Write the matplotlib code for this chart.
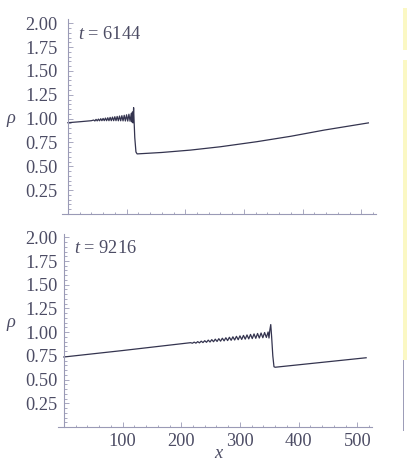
# density profiles rho(x) at two times, stacked panels
import matplotlib
matplotlib.use("Agg")
import matplotlib.pyplot as plt
from matplotlib.ticker import MultipleLocator
from matplotlib.patches import Rectangle

plt.rcParams['font.family'] = ['Liberation Serif', 'DejaVu Serif']
plt.rcParams['mathtext.fontset'] = 'custom'
plt.rcParams['mathtext.rm'] = 'Liberation Serif'
plt.rcParams['mathtext.it'] = 'Liberation Serif:italic'

# t = 6144
x_a = [0, 20, 40, 44, 46, 48, 50, 52, 54, 56, 58, 60, 62, 64, 66, 68, 70,
       72, 74, 76, 78, 80, 82, 84, 86, 88, 90, 92, 94, 96, 98, 100, 102,
       104, 106, 108, 109, 110, 111, 112, 113, 114, 116, 118, 160, 209, 260,
       322, 380, 437, 512]
rho_a = [0.957, 0.967, 0.978, 0.985, 0.975, 0.992, 0.976, 0.995, 0.977,
         0.999, 0.978, 1.002, 0.978, 1.006, 0.978, 1.009, 0.978, 1.013,
         0.978, 1.016, 0.978, 1.020, 0.978, 1.023, 0.977, 1.027, 0.977,
         1.031, 0.976, 1.035, 0.975, 1.040, 0.974, 1.046, 0.972, 1.055,
         0.965, 1.070, 0.955, 1.115, 0.950, 0.800, 0.650, 0.630, 0.645,
         0.670, 0.705, 0.758, 0.815, 0.880, 0.955]

# t = 9216
x_b = [0, 100, 216, 219, 222, 225, 228, 231, 234, 237, 240, 243, 246, 249,
       252, 255, 258, 261, 264, 267, 270, 273, 276, 279, 282, 285, 288, 291,
       294, 297, 300, 303, 306, 309, 312, 315, 318, 321, 324, 327, 330, 333,
       336, 339, 342, 345, 348, 349.5, 351, 352.5, 354, 356, 358, 360, 515]
rho_b = [0.738, 0.806, 0.889, 0.883, 0.895, 0.884, 0.900, 0.887, 0.905,
         0.890, 0.910, 0.893, 0.916, 0.896, 0.921, 0.899, 0.926, 0.902,
         0.931, 0.905, 0.936, 0.908, 0.941, 0.911, 0.946, 0.914, 0.951,
         0.917, 0.956, 0.920, 0.961, 0.923, 0.966, 0.926, 0.971, 0.929,
         0.976, 0.932, 0.981, 0.935, 0.986, 0.938, 0.991, 0.941, 0.996,
         0.944, 1.002, 0.938, 1.025, 1.080, 0.950, 0.750, 0.635, 0.630,
         0.730]

times = ["6144", "9216"]

W, H = 407, 462
text_col = "#4c4c64"
axis_col = "#9a9ab6"
line_col = "#34344f"
fs = 13.2

fig = plt.figure(figsize=(W / 100, H / 100), dpi=100)


def panel(rect, xs, ys, label, pad_y, show_x):
    ax = fig.add_axes(rect)
    ax.plot(xs, ys, color=line_col, lw=0.9)
    ax.set_xlim(-10, 525)
    ax.set_ylim(0, 2.04)
    for s in ["top", "right"]:
        ax.spines[s].set_visible(False)
    ax.spines["left"].set_position(("data", 0))
    ax.spines["bottom"].set_position(("data", 0))
    for s in ["left", "bottom"]:
        ax.spines[s].set_color(axis_col)
        ax.spines[s].set_linewidth(0.8)
    ax.xaxis.set_major_locator(MultipleLocator(100))
    ax.xaxis.set_minor_locator(MultipleLocator(20))
    ax.yaxis.set_major_locator(MultipleLocator(0.25))
    ax.yaxis.set_minor_locator(MultipleLocator(0.05))
    ax.tick_params(which="both", direction="in", color=axis_col, width=0.6,
                   labelcolor=text_col, labelsize=fs)
    ax.tick_params(which="major", length=3.5)
    ax.tick_params(which="minor", length=1.8)
    ax.tick_params(axis="y", pad=pad_y)
    ax.tick_params(axis="x", pad=4.0)
    ax.set_yticks([0.25, 0.5, 0.75, 1.0, 1.25, 1.5, 1.75, 2.0])
    ax.set_yticklabels(["0.25", "0.50", "0.75", "1.00", "1.25", "1.50",
                        "1.75", "2.00"])
    ax.set_xticks([100, 200, 300, 400, 500])
    if not show_x:
        ax.set_xticklabels([])
    ax.patch.set_alpha(0)
    ax.text(0.05, 0.92, r"$t$ = " + label, transform=ax.transAxes,
            fontsize=fs, color=text_col, va="center", ha="left")
    return ax


top = panel([62 / W, 1 - 214 / H, 314 / W, 194.6 / H], x_a, rho_a,
            times[0], 7.5, False)
top.set_ylabel(r"$\rho$", rotation=0, fontsize=fs, color=text_col,
               va="center")
top.yaxis.set_label_coords(-0.162, 0.48)

bot = panel([58 / W, 1 - 427 / H, 314 / W, 193.5 / H], x_b, rho_b,
            times[1], 4.5, True)
bot.set_ylabel(r"$\rho$", rotation=0, fontsize=fs, color=text_col,
               va="center")
bot.yaxis.set_label_coords(-0.15, 0.53)
bot.set_xlabel("x", fontsize=fs, fontstyle="italic", color=text_col,
               va="top")
bot.xaxis.set_label_coords(0.51, -0.095)

# pale yellow strips down the right-hand margin
fig.patches.append(Rectangle((403 / W, 1 - 50 / H), 4 / W, 42 / H,
                             transform=fig.transFigure, color="#fbf8c4",
                             lw=0))
fig.patches.append(Rectangle((403 / W, 1 - 360 / H), 4 / W, 300 / H,
                             transform=fig.transFigure, color="#fbf8c4",
                             lw=0))
fig.lines.append(plt.Line2D([403 / W, 403 / W], [1 - 430 / H, 1 - 360 / H],
                            transform=fig.transFigure, color="#9a9ab6",
                            lw=0.7))

fig.savefig("out.png", dpi=100)
